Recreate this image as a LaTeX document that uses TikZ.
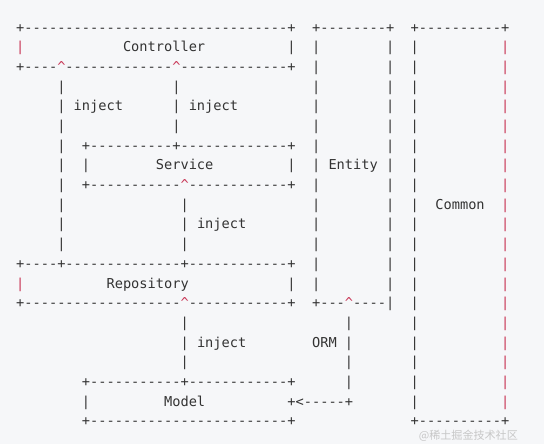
\documentclass[tikz,border=0pt]{standalone}
\usepackage{fontspec}
\setmonofont{DejaVu Sans Mono}
\newfontfamily\cjkfont{Noto Sans CJK SC}
\ExplSyntaxOn
\NewDocumentCommand\dsh{m}{\prg_replicate:nn{#1}{-}}
\ExplSyntaxOff
\definecolor{ink}{HTML}{333333}
\definecolor{hi}{HTML}{C93757}
\definecolor{bg}{HTML}{F6F7F9}
\newcommand\caret{\textcolor{hi}{\textasciicircum}}
\begin{document}
\begin{tikzpicture}[x=6.165pt,y=-14.7675pt,
  ch/.style={font=\ttfamily\fontsize{10.24pt}{12pt}\selectfont, text=ink,
    anchor=base west, inner sep=0pt, yshift=-3.07pt},
  hich/.style={ch, text=hi},
  wmark/.style={font=\cjkfont\fontsize{8.3pt}{10pt}\selectfont, text=black!22,
    anchor=east, inner sep=0pt}]
\fill[bg] (-2.433,-1.422) rectangle (63.747,21.128);
\useasboundingbox (-2.433,-1.422) rectangle (63.747,21.128);
% ---- top borders
\node[ch] (ctrlTop) at (-0.5,0) {+\dsh{32}+};
\node[ch] (entTop) at (35.5,0) {+\dsh{8}+};
\node[ch] (comTop) at (47.5,0) {+\dsh{10}+};
% ---- Controller
\node[hich] (ctrlL) at (-0.5,1) {|};
\node[ch] (ctrl) at (12.5,1) {Controller};
\node[ch] (ctrlR) at (32.5,1) {|};
\node[ch] (ctrlBot) at (-0.5,2) {+\dsh{4}\caret\dsh{13}\caret\dsh{13}+};
% ---- inject lines from Controller
\foreach \r in {3,...,11} {\node[ch] (va\r) at (4.5,\r) {|};}
\foreach \r in {3,...,5} {\node[ch] (vb\r) at (18.5,\r) {|};}
\node[ch] (inj1) at (6.5,4) {inject};
\node[ch] (inj2) at (20.5,4) {inject};
% ---- Service
\node[ch] (srvTop) at (7.5,6) {+\dsh{10}+\dsh{13}+};
\node[ch] (srvL) at (7.5,7) {|};
\node[ch] (srv) at (16.5,7) {Service};
\node[ch] (srvR) at (32.5,7) {|};
\node[ch] (srvBot) at (7.5,8) {+\dsh{11}\caret\dsh{12}+};
\foreach \r in {9,...,11} {\node[ch] (vc\r) at (19.5,\r) {|};}
\node[ch] (inj3) at (21.5,10) {inject};
% ---- Repository
\node[ch] (repTop) at (-0.5,12) {+\dsh{4}+\dsh{14}+\dsh{12}+};
\node[hich] (repL) at (-0.5,13) {|};
\node[ch] (rep) at (10.5,13) {Repository};
\node[ch] (repR) at (32.5,13) {|};
\node[ch] (repBot) at (-0.5,14) {+\dsh{19}\caret\dsh{12}+};
\foreach \r in {15,...,17} {\node[ch] (vd\r) at (19.5,\r) {|};}
\node[ch] (inj4) at (21.5,16) {inject};
% ---- Entity
\foreach \r in {1,...,13} {
  \node[ch] (el\r) at (35.5,\r) {|};
  \node[ch] (er\r) at (44.5,\r) {|};}
\node[ch] (ent) at (37.5,7) {Entity};
\node[ch] (entBot) at (35.5,14) {+\dsh{3}\caret\dsh{4}|};
\foreach \r in {15,...,18} {\node[ch] (ve\r) at (39.5,\r) {|};}
\node[ch] (orm) at (35.5,16) {ORM};
% ---- Model
\node[ch] (modTop) at (7.5,18) {+\dsh{11}+\dsh{12}+};
\node[ch] (modL) at (7.5,19) {|};
\node[ch] (mod) at (17.5,19) {Model};
\node[ch] (ormArr) at (32.5,19) {+<\dsh{5}+};
\node[ch] (modBot) at (7.5,20) {+\dsh{24}+};
% ---- Common
\foreach \r in {1,...,19} {
  \node[ch] (cl\r) at (47.5,\r) {|};
  \node[hich] (cr\r) at (58.5,\r) {|};}
\node[ch] (com) at (50.5,9) {Common};
\node[ch] (comBot) at (47.5,20) {+\dsh{10}+};
% ---- watermark
\node[wmark] (wm) at (60.6,20.72) {@稀土掘金技术社区};
\end{tikzpicture}
\end{document}
